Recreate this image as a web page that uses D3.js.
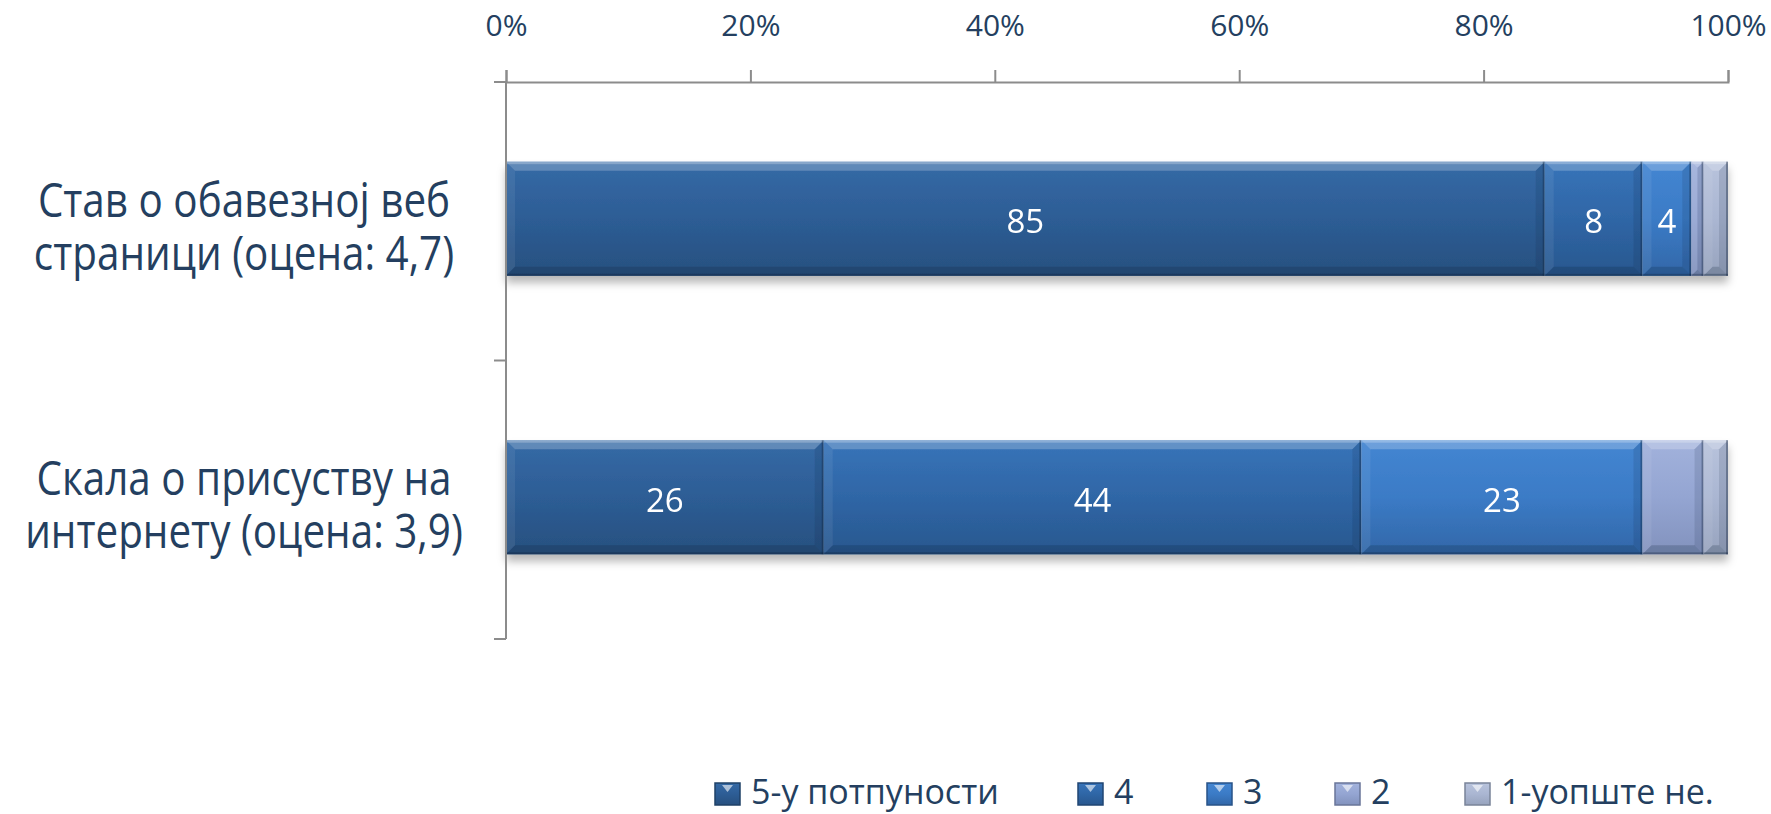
<!DOCTYPE html>
<html><head><meta charset="utf-8">
<script src="https://cdn.jsdelivr.net/npm/d3@7"></script>
<style>
body{margin:0;background:#fff}
svg{display:block}
text{font-family:"Open Sans",sans-serif}
</style>
</head><body>
<svg id="c" width="1771" height="814"></svg>
<script>
// ---------- data ----------
const categories = ["Став о обавезној веб страници (оцена: 4,7)", "Скала о присуству на интернету (оцена: 3,9)"];
const categoryLines = [["Став о обавезној веб", "страници (оцена: 4,7)"], ["Скала о присуству на", "интернету (оцена: 3,9)"]];
const seriesNames = ["5-у потпуности", "4", "3", "2", "1-уопште не."];
const values5 = [85, 26];
const values4 = [8, 44];
const values3 = [4, 23];
const values2 = [1, 5];
const values1 = [2, 2];
const tickValues = [0, 0.2, 0.4, 0.6, 0.8, 1];
const tickLabels = ["0%", "20%", "40%", "60%", "80%", "100%"];
const labelledSeries = ["5-у потпуности", "4", "3"];

// ---------- styles ----------
const palette = {
  "5-у потпуности": {top: "#356aa6", base: "#2d5d95", bottom: "#27507f"},
  "4": {top: "#3874b9", base: "#2f66a6", bottom: "#29578e"},
  "3": {top: "#4486d2", base: "#3b7bc6", bottom: "#3267a8"},
  "2": {top: "#a2b2dc", base: "#94a5d2", bottom: "#8292bd"},
  "1-уопште не.": {top: "#b8c3dc", base: "#aab6d2", bottom: "#97a3bd"}
};
const textColor = "#243F60";
const axisColor = "#8c8c8c";

const svg = d3.select("#c");
const defs = svg.append("defs");

seriesNames.forEach((s, i) => {
  const c = palette[s];
  const g = defs.append("linearGradient").attr("id", "g" + i).attr("x1", 0).attr("y1", 0).attr("x2", 0).attr("y2", 1);
  g.append("stop").attr("offset", "0").attr("stop-color", c.top);
  g.append("stop").attr("offset", "0.5").attr("stop-color", c.base);
  g.append("stop").attr("offset", "1").attr("stop-color", c.bottom);
});
const sh = defs.append("filter").attr("id", "shadow").attr("x", "-5%").attr("y", "-20%").attr("width", "110%").attr("height", "160%");
sh.append("feDropShadow").attr("dx", 0).attr("dy", 7).attr("stdDeviation", 4).attr("flood-color", "#000").attr("flood-opacity", 0.28);

// ---------- scales ----------
const x = d3.scaleLinear().domain([0, 1]).range([506, 1728]);
const y = d3.scaleBand().domain(categories).range([82, 639]).paddingInner(0.59).paddingOuter(0.295);

const rows = categories.map((c, i) => ({
  cat: c,
  [seriesNames[0]]: values5[i],
  [seriesNames[1]]: values4[i],
  [seriesNames[2]]: values3[i],
  [seriesNames[3]]: values2[i],
  [seriesNames[4]]: values1[i]
}));
const stacked = d3.stack().keys(seriesNames).offset(d3.stackOffsetExpand)(rows);

// ---------- bars (bevelled) ----------
const barsG = svg.append("g").attr("filter", "url(#shadow)");
stacked.forEach((layer, si) => {
  const g = barsG.append("g");
  layer.forEach(d => {
    const x0 = x(d[0]), x1 = x(d[1]);
    const y0 = y(d.data.cat) - 2.5, h = y.bandwidth(), y1 = y0 + h;
    const w = x1 - x0;
    const b = Math.min(9, w / 2);
    g.append("rect").attr("x", x0).attr("y", y0).attr("width", w).attr("height", h).attr("fill", `url(#g${si})`);
    // top bevel
    g.append("path").attr("d", `M${x0},${y0}L${x1},${y0}L${x1 - b},${y0 + b}L${x0 + b},${y0 + b}Z`)
      .attr("fill", "#ffffff").attr("opacity", 0.22);
    g.append("rect").attr("x", x0).attr("y", y0).attr("width", w).attr("height", 2.5)
      .attr("fill", "#ffffff").attr("opacity", 0.25);
    // left bevel
    g.append("path").attr("d", `M${x0},${y0}L${x0 + b},${y0 + b}L${x0 + b},${y1 - b}L${x0},${y1}Z`)
      .attr("fill", "#ffffff").attr("opacity", 0.07);
    // right bevel
    g.append("path").attr("d", `M${x1},${y0}L${x1 - b},${y0 + b}L${x1 - b},${y1 - b}L${x1},${y1}Z`)
      .attr("fill", "#0b1c33").attr("opacity", 0.12);
    // bottom bevel
    g.append("path").attr("d", `M${x0},${y1}L${x1},${y1}L${x1 - b},${y1 - b}L${x0 + b},${y1 - b}Z`)
      .attr("fill", "#0b1c33").attr("opacity", 0.2);
    // edge line
    g.append("rect").attr("x", x1 - Math.min(2, w / 2)).attr("y", y0).attr("width", Math.min(2, w / 2)).attr("height", h)
      .attr("fill", "#0b1c33").attr("opacity", 0.35);
    g.append("rect").attr("x", x0).attr("y", y1 - 2).attr("width", w).attr("height", 2)
      .attr("fill", "#0b1c33").attr("opacity", 0.3);
  });
});

// ---------- data labels ----------
stacked.forEach(layer => {
  if (!labelledSeries.includes(layer.key)) return;
  layer.forEach(d => {
    const v = d.data[layer.key];
    svg.append("text")
      .attr("x", (x(d[0]) + x(d[1])) / 2)
      .attr("y", y(d.data.cat) + y.bandwidth() / 2 + 12)
      .attr("text-anchor", "middle")
      .attr("fill", "#ffffff")
      .attr("font-size", 33)
      .text(v);
  });
});

// ---------- axes ----------
const topAxis = d3.axisTop(x).tickValues(tickValues).tickFormat((d, i) => tickLabels[i])
  .tickSize(12).tickSizeOuter(12).tickPadding(34);
const ax = svg.append("g").attr("transform", "translate(0,82)").call(topAxis);
ax.select(".domain").attr("stroke", axisColor).attr("stroke-width", 2);
ax.selectAll(".tick line").attr("stroke", axisColor).attr("stroke-width", 2);
ax.selectAll(".tick text").attr("fill", textColor).attr("font-size", 30)
  .attr("font-family", '"Open Sans", sans-serif');

const [r0, r1] = y.range();
const bounds = d3.range(categories.length + 1).map(i => r0 + i * (r1 - r0) / categories.length);
const leftG = svg.append("g");
leftG.append("line").attr("x1", x(0)).attr("x2", x(0)).attr("y1", r0).attr("y2", r1)
  .attr("stroke", axisColor).attr("stroke-width", 2);
leftG.selectAll(".lt").data(bounds).join("line").attr("class", "lt")
  .attr("x1", x(0) - 12).attr("x2", x(0)).attr("y1", d => d).attr("y2", d => d)
  .attr("stroke", axisColor).attr("stroke-width", 2);

// ---------- category labels ----------
const labelCx = 244;
categories.forEach((c, i) => {
  const yc = y(c) + y.bandwidth() / 2 - 2.5;
  categoryLines[i].forEach((ln, j) => {
    svg.append("text")
      .attr("transform", `translate(${labelCx},${yc - 2 + j * 53}) scale(0.86,1)`)
      .attr("text-anchor", "middle").attr("fill", textColor).attr("font-size", 47)
      .text(ln);
  });
});

// ---------- legend ----------
const legendX = [715, 1078, 1207, 1335, 1465];
const lg = svg.append("g");
seriesNames.forEach((s, i) => {
  const gx = legendX[i];
  lg.append("rect").attr("x", gx).attr("y", 783).attr("width", 25).attr("height", 22)
    .attr("fill", `url(#g${i})`).attr("stroke", d3.color(palette[s].bottom).darker(0.6)).attr("stroke-width", 1.5);
  lg.append("path").attr("d", `M${gx + 7},${785} L${gx + 18},${785} L${gx + 12.5},${792} Z`)
    .attr("fill", "#ffffff").attr("opacity", 0.6);
  lg.append("text").attr("x", gx + 36).attr("y", 804).attr("fill", textColor).attr("font-size", 34).text(s);
});
</script>
</body></html>
